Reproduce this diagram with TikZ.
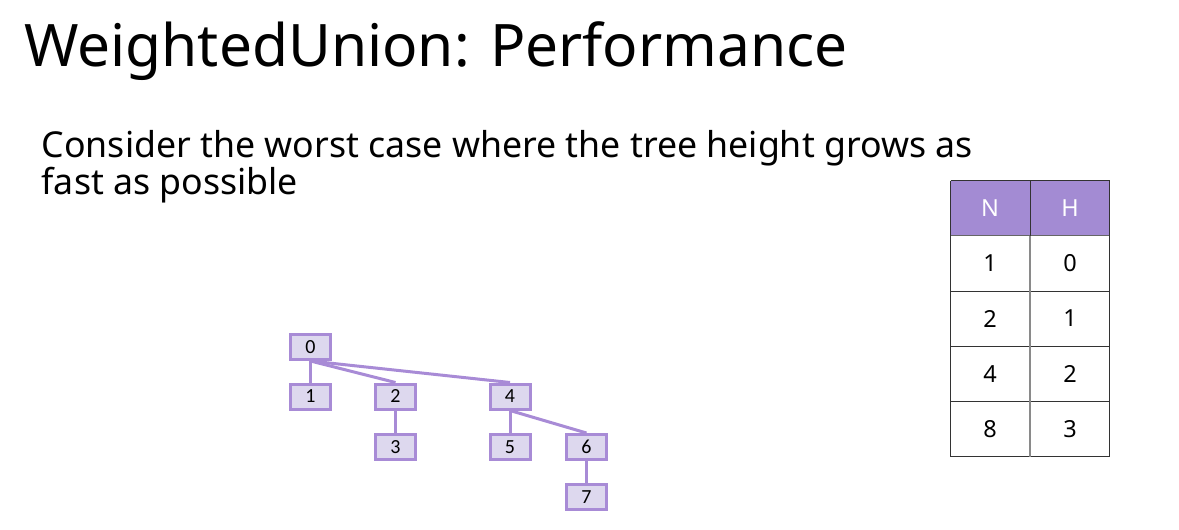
\documentclass[tikz,border=0pt]{standalone}
\usepackage{fontspec}
\usetikzlibrary{backgrounds}
\setmainfont{Noto Sans}
\newfontfamily\treefont{Carlito}
\definecolor{nodefill}{HTML}{DDD8EE}
\definecolor{nodeline}{HTML}{A88BD6}
\definecolor{headfill}{HTML}{A38BD3}
\definecolor{gridline}{HTML}{333333}
\definecolor{midline}{HTML}{8A8A8A}
\begin{document}
\begin{tikzpicture}[x=1pt,y=-1pt,
  treenode/.style={draw=nodeline,fill=nodefill,line width=3pt,minimum width=40pt,minimum height=25pt,inner sep=0pt,font=\treefont\fontsize{20}{23}\selectfont},
  treeedge/.style={draw=nodeline,line width=3pt},
  cell/.style={inner sep=0pt,font=\fontsize{23.5}{27}\selectfont},
  headcell/.style={cell,text=white},
  txt/.style={inner sep=0pt,anchor=base west}]
\useasboundingbox (0,0) rectangle (1179,530);
% title and text
\node[txt,font=\fontsize{58.6}{70}\selectfont] (title) at (24,66) {WeightedUnion: Performance};
\node[txt,font=\fontsize{35.7}{42}\selectfont] (line1) at (41.5,157) {Consider the worst case where the tree height grows as};
\node[txt,font=\fontsize{35.7}{42}\selectfont] (line2) at (41.5,194) {fast as possible};
% tree nodes
\node[treenode] (n0) at (310.5,347) {0};
\node[treenode] (n1) at (310.5,396.5) {1};
\node[treenode] (n2) at (395.5,396.5) {2};
\node[treenode] (n4) at (510,396.5) {4};
\node[treenode] (n3) at (395.5,447) {3};
\node[treenode] (n5) at (510,447) {5};
\node[treenode] (n6) at (586.5,447) {6};
\node[treenode] (n7) at (586.5,497) {7};
% tree edges
\begin{scope}[on background layer]
\path[treeedge] (n0.south) -- (n1.north);
\path[treeedge] (n0.south) -- (n2.north);
\path[treeedge] (n0.south) -- (n4.north);
\path[treeedge] (n2.south) -- (n3.north);
\path[treeedge] (n4.south) -- (n5.north);
\path[treeedge] (n4.south) -- (n6.north);
\path[treeedge] (n6.south) -- (n7.north);
\end{scope}
% table
\fill[headfill] (950.5,180.7) rectangle (1109.5,235.7);
\draw[gridline,line width=1.2pt] (950.5,180.7) -- (1109.5,180.7);
\draw[gray!80!black,line width=1.5pt] (950.5,235.7) -- (1109.5,235.7);
\foreach \yy in {291,346.2,401.5,456.7}
  \draw[gridline,line width=1pt] (950.5,\yy) -- (1109.5,\yy);
\draw[gridline,line width=1pt] (950.5,180.7) -- (950.5,456.7);
\draw[gridline,line width=1pt] (1109.5,180.7) -- (1109.5,456.7);
\draw[gridline,line width=1pt] (1030,180.7) -- (1030,235.7);
\draw[midline,line width=1.2pt] (1030,235.7) -- (1030,456.7);
\node[headcell] (hN) at (990,208.2) {N};
\node[headcell] (hH) at (1070,208.2) {H};
\node[cell] (c11) at (990,263.4) {1};
\node[cell] (c12) at (1070,263.4) {0};
\node[cell] (c21) at (990,318.6) {2};
\node[cell] (c22) at (1070,318.6) {1};
\node[cell] (c31) at (990,373.9) {4};
\node[cell] (c32) at (1070,373.9) {2};
\node[cell] (c41) at (990,429.1) {8};
\node[cell] (c42) at (1070,429.1) {3};
\end{tikzpicture}
\end{document}
